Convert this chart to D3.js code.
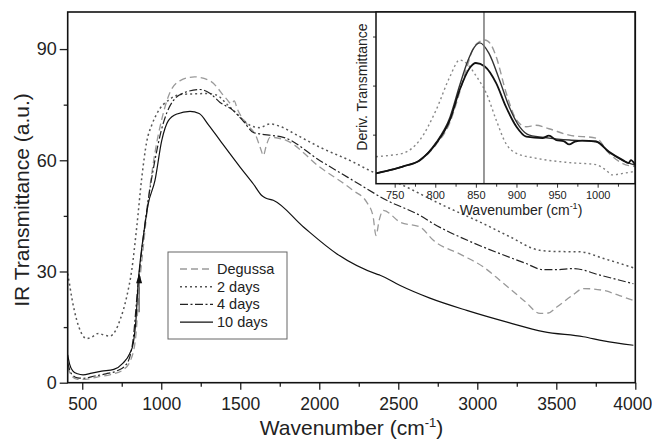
<!DOCTYPE html>
<html>
<head>
<meta charset="utf-8">
<script src="https://cdn.jsdelivr.net/npm/d3@7"></script>
<style>
    body { margin: 0; background: #fff; }
    text { font-family: "Liberation Sans", Arial, Helvetica, sans-serif; fill: #222; }
</style>
</head>
<body>
<svg width="652" height="446"></svg>
<script>
const width = 652;
const height = 446;

// main spectra (wavenumber / transmittance)
const degussaW = [408, 430, 470, 520, 600, 680, 760, 810, 840, 855, 870, 885, 920, 960, 1003, 1055, 1120, 1210, 1310, 1414, 1445, 1462, 1480, 1541, 1600, 1630, 1646, 1665, 1688, 1794, 2005, 2216, 2300, 2340, 2359, 2380, 2405, 2512, 2638, 2722, 2900, 3039, 3144, 3300, 3397, 3450, 3503, 3600, 3671, 3798, 3900, 3988];
const degussaT = [4.3, 2.0, 0.9, 0.9, 1.6, 2.2, 3.5, 6.5, 13, 22, 30, 36, 50, 62, 71, 78.3, 81.5, 82.5, 81.4, 76.5, 75.2, 76.0, 74, 69.8, 66.5, 63, 61.3, 64, 66.2, 65.3, 58.1, 51.8, 48.7, 45, 39.7, 44, 46.5, 43.3, 42.0, 38.4, 34.5, 31.2, 27.6, 22, 18.7, 18.8, 20.4, 23.5, 25.4, 24.9, 23.5, 22.2];

const days2W = [408, 420, 433, 450, 465, 490, 528, 560, 602, 640, 676, 710, 739, 781, 813, 845, 876, 908, 940, 971, 1055, 1130, 1203, 1288, 1350, 1414, 1480, 1560, 1620, 1688, 1760, 1850, 2005, 2216, 2321, 2512, 2786, 3039, 3200, 3397, 3500, 3650, 3800, 3988];
const days2T = [29.4, 26.5, 23.1, 19.5, 16.9, 13.8, 11.9, 12.3, 13.3, 12.8, 12.6, 14.0, 16.9, 23.1, 30.3, 42, 55, 65, 69.5, 72.5, 76.5, 77.8, 77.9, 78.0, 77.6, 75.2, 72.5, 69.5, 68.8, 69.8, 69.0, 67.0, 63.5, 59.5, 57.2, 53.6, 47.8, 42.9, 39.5, 35.7, 35.4, 35.3, 33.5, 31.0];

const days4W = [408, 430, 470, 510, 580, 650, 720, 780, 820, 850, 880, 920, 960, 1000, 1076, 1150, 1245, 1310, 1372, 1456, 1520, 1583, 1625, 1700, 1772, 2005, 2216, 2427, 2638, 2722, 2954, 3144, 3300, 3418, 3500, 3608, 3777, 3988];
const days4T = [5.5, 2.5, 1.3, 1.2, 1.8, 2.4, 3.2, 5.0, 11, 25, 37, 50, 60, 68, 76.1, 78.3, 79.1, 78, 75.6, 73.4, 70.5, 67.5, 67.1, 66.7, 66.2, 59.9, 54.5, 49.2, 45.1, 42.9, 38.1, 34.8, 32.3, 30.5, 30.5, 30.8, 29.0, 26.7];

const days10W = [408, 420, 440, 470, 505, 560, 623, 700, 758, 800, 823, 840, 855, 870, 886, 918, 960, 1003, 1045, 1100, 1182, 1240, 1300, 1373, 1500, 1583, 1636, 1660, 1709, 1900, 2110, 2364, 2385, 2512, 2700, 2933, 3200, 3418, 3671, 3800, 3988];
const days10T = [7.5, 5.0, 3.2, 2.4, 2.1, 2.6, 3.1, 3.6, 5.3, 7.8, 10.7, 17, 27.6, 34, 39.3, 48.3, 54.5, 65.3, 70.7, 72.5, 73.2, 72.6, 69.5, 65.3, 58.1, 53.6, 50.5, 49.8, 49.2, 42.0, 34.8, 29.3, 29.0, 26.2, 22.8, 19.5, 16.2, 13.8, 12.4, 11.3, 10.1];

// inset: derivative spectra
const insDegussaW = [727, 760, 781, 801, 818, 826, 838, 846, 855, 861, 868, 875, 887, 900, 912, 924, 940, 965, 998, 1014, 1031, 1046];
const insDegussaD = [0.21, 0.35, 0.47, 0.80, 1.25, 1.64, 2.32, 2.73, 2.90, 2.93, 2.85, 2.59, 1.87, 1.30, 1.16, 1.19, 1.12, 0.99, 0.93, 0.62, 0.41, 0.35];
const ins2W = [727, 745, 760, 781, 801, 818, 830, 838, 851, 863, 875, 887, 900, 924, 965, 998, 1010, 1018, 1031, 1046];
const ins2D = [0.55, 0.58, 0.62, 0.89, 1.50, 2.18, 2.52, 2.46, 2.18, 1.84, 1.30, 0.82, 0.62, 0.52, 0.43, 0.39, 0.28, 0.18, 0.21, 0.25];
const ins4W = [727, 760, 781, 801, 818, 830, 840, 848, 855, 866, 879, 891, 904, 916, 940, 965, 998, 1014, 1031, 1046];
const ins4D = [0.21, 0.35, 0.48, 0.84, 1.35, 2.0, 2.5, 2.78, 2.87, 2.66, 2.12, 1.57, 1.16, 0.99, 0.93, 0.89, 0.86, 0.64, 0.47, 0.38];
const ins10W = [727, 745, 760, 781, 801, 818, 830, 842, 850, 861, 875, 887, 900, 912, 932, 940, 949, 958, 965, 972, 981, 998, 1014, 1031, 1038, 1041, 1046];
const ins10D = [0.21, 0.28, 0.35, 0.48, 0.82, 1.30, 1.91, 2.35, 2.46, 2.39, 2.05, 1.57, 1.16, 0.96, 0.93, 0.98, 0.89, 0.87, 0.80, 0.86, 0.88, 0.86, 0.65, 0.48, 0.42, 0.48, 0.39];

const seriesNames = ["Degussa", "2 days", "4 days", "10 days"];
const xTicks = [500, 1000, 1500, 2000, 2500, 3000, 3500, 4000];
const yTicks = [0, 30, 60, 90];
const insetTicks = [750, 800, 850, 900, 950, 1000];
const markerW = 860;      // vertical line in inset / arrow in main plot
const arrowT = [19, 29.5];

const styles = {
    "Degussa": { stroke: "#9a9a9a", dash: "7,4", w: 1.3 },
    "2 days": { stroke: "#555", dash: "2,3", w: 1.5 },
    "4 days": { stroke: "#222", dash: "8,2.5,2,2.5", w: 1.2 },
    "10 days": { stroke: "#111", dash: null, w: 1.2 },
};
const insetStroke = { "Degussa": "#999", "2 days": "#888", "4 days": "#333", "10 days": "#111" };

const zip = (xs, ys) => xs.map((x, i) => [x, ys[i]]);
const mainData = {
    "Degussa": zip(degussaW, degussaT),
    "2 days": zip(days2W, days2T),
    "4 days": zip(days4W, days4T),
    "10 days": zip(days10W, days10T),
};
const insetData = {
    "Degussa": zip(insDegussaW, insDegussaD),
    "2 days": zip(ins2W, ins2D),
    "4 days": zip(ins4W, ins4D),
    "10 days": zip(ins10W, ins10D),
};

const svg = d3.select("svg");
const fmt = d3.format("d");

// main scales
const x = d3.scaleLinear().domain([408, 4000]).range([67.7, 635.3]);
const y = d3.scaleLinear().domain([0, 100]).range([382.7, 12]);

const g = svg.append("g");

// x axis (major + minor)
g.append("g")
    .attr("transform", `translate(0, ${y(0)})`)
    .call(d3.axisBottom(x).tickValues(d3.range(750, 4000, 500)).tickSize(4).tickFormat(""))
    .call((a) => a.select(".domain").remove());
g.append("g")
    .attr("transform", `translate(0, ${y(0)})`)
    .call(d3.axisBottom(x).tickValues(xTicks).tickSize(7).tickPadding(8).tickFormat(fmt))
    .call((a) => a.select(".domain").remove())
    .selectAll("text")
    .style("font-size", "17.5px")
    .attr("dx", (d) => (d === 4000 ? -3 : 0)); // keep last label inside the page

// y axis (major + minor)
g.append("g")
    .attr("transform", `translate(${x.range()[0]}, 0)`)
    .call(d3.axisLeft(y).tickValues([15, 45, 75]).tickSize(4).tickFormat(""))
    .call((a) => a.select(".domain").remove());
g.append("g")
    .attr("transform", `translate(${x.range()[0]}, 0)`)
    .call(d3.axisLeft(y).tickValues(yTicks).tickSize(8).tickPadding(3).tickFormat(fmt))
    .call((a) => a.select(".domain").remove())
    .selectAll("text").style("font-size", "18px");

g.selectAll(".tick line").attr("stroke", "#222").attr("stroke-width", 1.3);

// clip for main curves
svg.append("clipPath").attr("id", "mainClip")
    .append("rect")
    .attr("x", x.range()[0]).attr("y", y(100))
    .attr("width", x.range()[1] - x.range()[0])
    .attr("height", y(0) - y(100));

const line = d3.line()
    .x((d) => x(d[0]))
    .y((d) => y(d[1]))
    .curve(d3.curveMonotoneX);

const curves = g.append("g").attr("clip-path", "url(#mainClip)");
seriesNames.forEach((name) => {
    const s = styles[name];
    curves.append("path")
        .datum(mainData[name])
        .attr("d", line)
        .attr("fill", "none")
        .attr("stroke", s.stroke)
        .attr("stroke-width", s.w)
        .attr("stroke-dasharray", s.dash);
});

// arrow at 860 cm-1
g.append("line")
    .attr("x1", x(markerW)).attr("x2", x(markerW))
    .attr("y1", y(arrowT[0])).attr("y2", y(arrowT[1]) + 6)
    .attr("stroke", "#555").attr("stroke-width", 1.2);
g.append("path")
    .attr("d", `M${x(markerW)},${y(arrowT[1])} l-3,10 l6,0 z`)
    .attr("fill", "#111");

// frame
g.append("rect")
    .attr("x", x.range()[0]).attr("y", y(100))
    .attr("width", x.range()[1] - x.range()[0])
    .attr("height", y(0) - y(100))
    .attr("fill", "none").attr("stroke", "#111").attr("stroke-width", 1.6);

// axis labels
const xLabel = g.append("text")
    .attr("x", (x.range()[0] + x.range()[1]) / 2)
    .attr("y", 435)
    .attr("text-anchor", "middle")
    .style("font-size", "21px");
xLabel.append("tspan").text("Wavenumber (cm");
xLabel.append("tspan").attr("dy", -8).style("font-size", "13px").text("-1");
xLabel.append("tspan").attr("dy", 8).text(")");

g.append("text")
    .attr("transform", "translate(29, 200) rotate(-90)")
    .attr("text-anchor", "middle")
    .style("font-size", "21px")
    .text("IR Transmittance (a.u.)");

// legend
const legend = g.append("g").attr("transform", "translate(168, 252)");
legend.append("rect")
    .attr("width", 119).attr("height", 87)
    .attr("fill", "#fff").attr("stroke", "#666").attr("stroke-width", 1);
seriesNames.forEach((name, i) => {
    const s = styles[name];
    const ly = 17 + i * 17.7;
    legend.append("line")
        .attr("x1", 12).attr("x2", 45).attr("y1", ly).attr("y2", ly)
        .attr("stroke", s.stroke).attr("stroke-width", s.w)
        .attr("stroke-dasharray", s.dash);
    legend.append("text")
        .attr("x", 49).attr("y", ly + 5)
        .style("font-size", "14.5px")
        .text(name);
});

// ---------- inset ----------
const xi = d3.scaleLinear().domain([727, 1046]).range([376, 635]);
const yi = d3.scaleLinear().domain([0, 3.5]).range([183.7, 12]);

const inset = svg.append("g");
inset.append("rect")
    .attr("x", xi.range()[0]).attr("y", yi(3.5))
    .attr("width", xi.range()[1] - xi.range()[0])
    .attr("height", yi(0) - yi(3.5))
    .attr("fill", "#fff");

svg.append("clipPath").attr("id", "insetClip")
    .append("rect")
    .attr("x", xi.range()[0]).attr("y", yi(3.5))
    .attr("width", xi.range()[1] - xi.range()[0])
    .attr("height", yi(0) - yi(3.5));

const iline = d3.line()
    .x((d) => xi(d[0]))
    .y((d) => yi(d[1]))
    .curve(d3.curveMonotoneX);

const icurves = inset.append("g").attr("clip-path", "url(#insetClip)");
seriesNames.forEach((name) => {
    const s = styles[name];
    icurves.append("path")
        .datum(insetData[name])
        .attr("d", iline)
        .attr("fill", "none")
        .attr("stroke", insetStroke[name])
        .attr("stroke-width", name === "10 days" ? 1.8 : 1.4)
        .attr("stroke-dasharray", name === "4 days" ? null : s.dash);
});

// vertical marker
inset.append("line")
    .attr("x1", xi(markerW)).attr("x2", xi(markerW))
    .attr("y1", yi(0)).attr("y2", yi(3.5))
    .attr("stroke", "#777").attr("stroke-width", 1.5);

// inset axes
inset.append("g")
    .attr("transform", `translate(0, ${yi(0)})`)
    .call(d3.axisBottom(xi).tickValues(d3.range(775, 1046, 50)).tickSize(3).tickFormat(""))
    .call((a) => a.select(".domain").remove());
inset.append("g")
    .attr("transform", `translate(0, ${yi(0)})`)
    .call(d3.axisBottom(xi).tickValues(insetTicks).tickSize(4).tickPadding(4).tickFormat(fmt))
    .call((a) => a.select(".domain").remove())
    .selectAll("text").style("font-size", "11px");
inset.append("g")
    .attr("transform", `translate(${xi.range()[0]}, 0)`)
    .call(d3.axisLeft(yi).tickValues([1, 2, 3]).tickSize(3).tickFormat(""))
    .call((a) => a.select(".domain").remove());
inset.selectAll(".tick line").attr("stroke", "#333");

inset.append("rect")
    .attr("x", xi.range()[0]).attr("y", yi(3.5))
    .attr("width", xi.range()[1] - xi.range()[0])
    .attr("height", yi(0) - yi(3.5))
    .attr("fill", "none").attr("stroke", "#111").attr("stroke-width", 1.5);

const xiLabel = inset.append("text")
    .attr("x", 521)
    .attr("y", 215)
    .attr("text-anchor", "middle")
    .style("font-size", "14px");
xiLabel.append("tspan").text("Wavenumber (cm");
xiLabel.append("tspan").attr("dy", -6).style("font-size", "9px").text("-1");
xiLabel.append("tspan").attr("dy", 6).text(")");

inset.append("text")
    .attr("transform", "translate(367, 87) rotate(-90)")
    .attr("text-anchor", "middle")
    .style("font-size", "14px")
    .text("Deriv. Transmittance");
</script>
</body>
</html>
